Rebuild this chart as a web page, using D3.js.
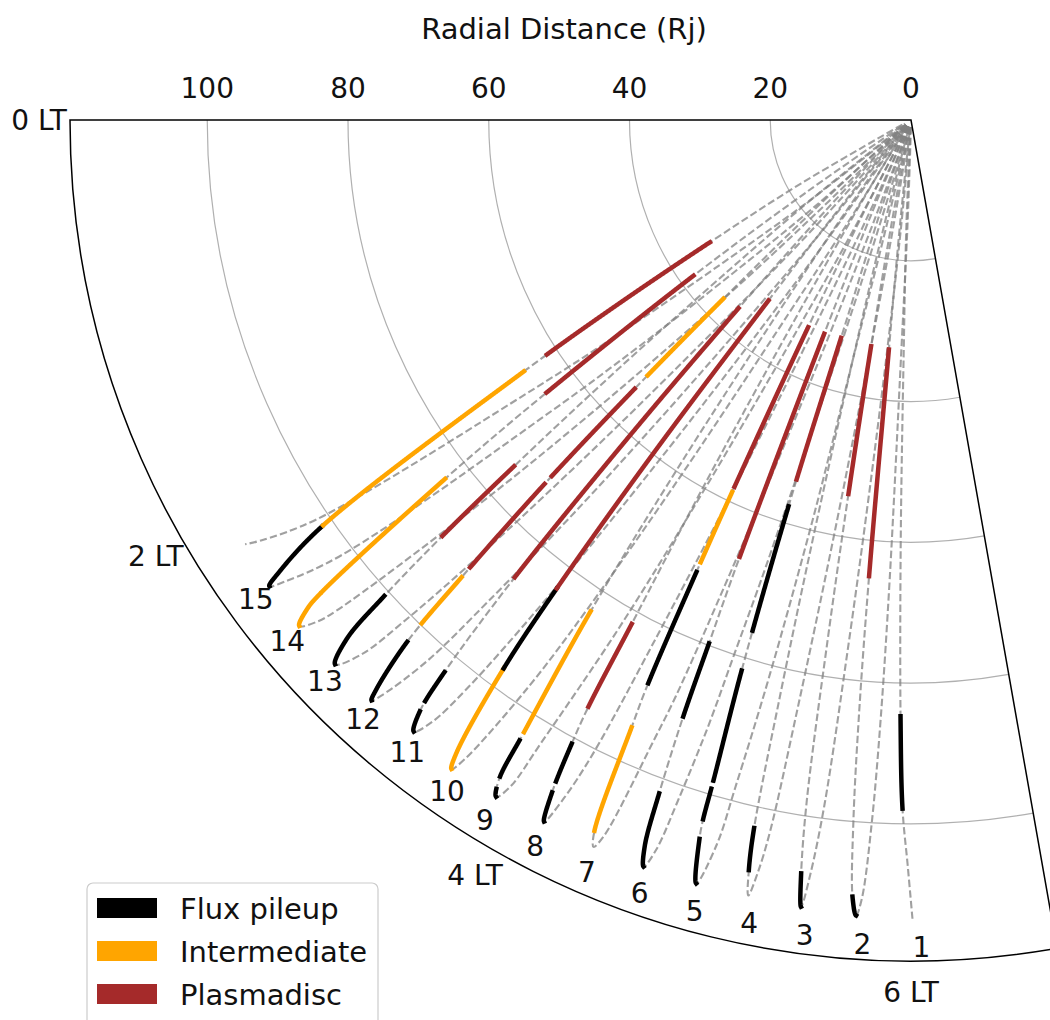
<!DOCTYPE html>
<html lang="en">
<head>
<meta charset="utf-8">
<title>Orbit regions by local time</title>
<script src="https://d3js.org/d3.v7.min.js"></script>
<style>
  body { margin: 0; background: #fff; }
  svg { display: block; font-family: "DejaVu Sans", sans-serif; }
</style>
</head>
<body>
<script>
// region classes
var regions = ["Flux pileup", "Intermediate", "Plasmadisc"];
var regionColors = ["black", "orange", "brown"];

var orbitLabels = ["1", "2", "3", "4", "5", "6", "7", "8", "9", "10", "11", "12", "13", "14", "15"];

// inbound legs, apojove -> planet, points are [LT (h), r (Rj)]
var inbound = [
  [[6.007,113.5],[5.983,105.9],[5.953,97.9],[5.933,84.8],[5.907,60],[5.880,33],[5.833,15],[5.767,1]],
  [[5.737,113.3],[5.713,110.7],[5.687,100],[5.667,85],[5.650,65.1],[5.633,32.8],[5.600,15],[5.500,1]],
  [[5.470,112.9],[5.447,108.2],[5.420,98],[5.393,75],[5.367,53.9],[5.333,32.7],[5.293,15],[5.200,1]],
  [[5.210,112.6],[5.187,109.1],[5.167,103.1],[5.147,85],[5.120,60],[5.087,33],[5.047,15],[4.953,1]],
  [[4.953,112.7],[4.907,106.5],[4.897,104],[4.890,98],[4.860,81.9],[4.827,57.6],[4.813,32.5],[4.773,15],[4.667,1]],
  [[4.687,112.7],[4.657,109.8],[4.633,102.2],[4.607,90.8],[4.593,79.8],[4.573,66.7],[4.527,32.8],[4.480,15],[4.367,1]],
  [[4.427,112.7],[4.400,110.6],[4.353,95],[4.333,88.4],[4.307,71.1],[4.287,57.9],[4.240,32.9],[4.193,15],[4.067,1]],
  [[4.160,112.5],[4.127,108.3],[4.097,100.9],[4.080,95.2],[4.067,81.9],[4.033,60],[3.987,33],[3.933,15],[3.800,1]],
  [[3.900,112.8],[3.867,110.5],[3.847,103],[3.793,83.4],[3.747,60],[3.693,33],[3.633,15],[3.500,1]],
  [[3.647,113],[3.620,110.6],[3.560,97.1],[3.527,83.5],[3.487,60],[3.447,32.7],[3.393,15],[3.267,1]],
  [[3.393,112],[3.353,109.3],[3.320,102.7],[3.273,86],[3.220,60],[3.167,36.3],[3.113,18],[2.967,1]],
  [[3.140,112.6],[3.120,111],[3.067,103.1],[3.033,91.1],[2.987,73.4],[2.947,54.8],[2.907,36.8],[2.853,18],[2.700,1]],
  [[2.893,112.6],[2.840,108.9],[2.807,100.9],[2.773,89.1],[2.740,74.9],[2.693,55],[2.633,33],[2.573,18],[2.400,1]],
  [[2.640,112.8],[2.600,110.4],[2.580,107.3],[2.507,83.6],[2.453,64.7],[2.373,38],[2.307,18],[2.133,1]],
  [[2.400,112.7],[2.373,110.5],[2.307,101.7],[2.200,65.6],[2.147,50],[2.087,33.5],[2.000,18],[1.800,1]]
];

// outbound legs, planet -> next apojove
var outbound = [
  [[5.973,1],[5.873,15],[5.840,32.8],[5.823,65.1],[5.807,85],[5.787,100],[5.760,110.7]],
  [[5.740,1],[5.647,15],[5.607,32.7],[5.573,53.9],[5.547,75],[5.520,98],[5.493,108.2]],
  [[5.467,1],[5.373,15],[5.333,33],[5.300,60],[5.273,85],[5.253,103.1],[5.233,109.1]],
  [[5.240,1],[5.133,15],[5.093,32.5],[5.080,57.6],[5.047,81.9],[5.017,98],[5.000,106.5]],
  [[5.007,1],[4.893,15],[4.847,32.8],[4.800,66.7],[4.780,79.8],[4.767,90.8],[4.740,102.2],[4.717,109.8]],
  [[4.787,1],[4.660,15],[4.613,32.9],[4.567,57.9],[4.547,71.1],[4.520,88.4],[4.500,95],[4.453,110.6]],
  [[4.520,1],[4.387,15],[4.333,33],[4.287,60],[4.253,81.9],[4.223,100.9],[4.193,108.3]],
  [[4.300,1],[4.167,15],[4.107,33],[4.053,60],[4.007,83.4],[3.953,103],[3.933,110.5]],
  [[4.027,1],[3.900,15],[3.847,32.7],[3.807,60],[3.767,83.5],[3.733,97.1],[3.673,110.6]],
  [[3.820,1],[3.673,18],[3.620,36.3],[3.567,60],[3.513,86],[3.467,102.7],[3.433,109.3]],
  [[3.580,1],[3.427,18],[3.373,36.8],[3.333,54.8],[3.293,73.4],[3.247,91.1],[3.213,103.1],[3.160,111]],
  [[3.387,1],[3.213,18],[3.153,33],[3.093,55],[3.047,74.9],[3.013,89.1],[2.980,100.9],[2.947,108.9]],
  [[3.147,1],[2.973,18],[2.907,38],[2.827,64.7],[2.773,83.6],[2.700,107.3],[2.680,110.4]],
  [[3.000,1],[2.800,18],[2.713,33.5],[2.653,50],[2.600,65.6],[2.493,101.7],[2.427,110.5]],
  [[2.767,1],[2.567,18],[2.480,33.5],[2.420,50],[2.367,65.6],[2.260,101.7],[2.193,110],[2.167,112.2]]
];

// classified stretches of each inbound leg: [orbit, region, r from, r to]
var segments = [
  [1,0,97.9,84.8],
  [2,0,113.3,110.7],[2,2,65.1,32.8],
  [3,0,112.9,108.2],[3,2,53.9,32.7],
  [4,0,109.1,103.1],
  [5,0,112.7,106.5],[5,0,103.7,99.2],[5,0,98.0,81.9],[5,0,76.0,57.6],[5,2,53.6,32.5],
  [6,0,112.7,102.2],[6,0,90.8,79.8],[6,2,66.7,32.8],
  [7,1,110.6,95.0],[7,0,88.4,71.1],[7,1,69.6,58.7],[7,2,57.9,32.9],
  [8,0,112.5,108.3],[8,0,106.7,100.9],[8,2,95.2,81.9],
  [9,0,112.8,111.9],[9,0,110.1,104.3],[9,1,102.9,83.4],
  [10,1,113.0,97.1],[10,0,97.1,83.5],[10,2,83.5,32.7],
  [11,0,112.0,109.3],[11,0,107.7,102.7],[11,2,86.0,36.3],
  [12,0,112.6,103.1],[12,1,99.8,91.1],[12,2,89.3,73.4],[12,2,71.9,54.8],[12,1,52.2,36.8],
  [13,0,112.6,100.9],[13,2,89.1,74.9],
  [14,1,112.8,107.7],[14,1,107.3,83.6],[14,2,64.7,38.0],
  [15,0,112.7,101.7],[15,1,101.5,65.6],[15,2,61.6,33.5]
];

var radialTicks = [0, 20, 40, 60, 80, 100];
var ltTicks = [0, 2, 4, 6];

//Width and height
var w = 1050;
var h = 1020;
var cx = 911, cy = 120;
var rMax = 119.5;
var ltMax = 100 / 15;   // wedge runs a little past 6 LT

var rScale = d3.scaleLinear().domain([0, rMax]).range([0, 841]);
// LT 0 points left, LT 6 points straight down
var aScale = d3.scaleLinear().domain([0, 6]).range([-Math.PI / 2, -Math.PI]);

var svg = d3.select("body").append("svg")
  .attr("width", w)
  .attr("height", h);

var g = svg.append("g").attr("transform", "translate(" + cx + "," + cy + ")");

//grid rings
var ring = d3.arc().startAngle(aScale(0)).endAngle(aScale(ltMax));
g.selectAll(".grid")
  .data(radialTicks.filter(function(d) { return d > 0; }))
  .enter().append("path")
  .attr("class", "grid")
  .attr("d", function(d) { return ring({innerRadius: rScale(d), outerRadius: rScale(d)}); })
  .attr("fill", "none")
  .attr("stroke", "#b0b0b0")
  .attr("stroke-width", 1.2);

var line = d3.lineRadial()
  .angle(function(d) { return aScale(d[0]); })
  .radius(function(d) { return rScale(d[1]); })
  .curve(d3.curveCatmullRom.alpha(0.5));

// each track runs from the planet out to apojove N and back in again
var tracks = inbound.map(function(leg, i) {
  return i === 0 ? leg : outbound[i - 1].concat(leg);
});
tracks.push(outbound[outbound.length - 1]);

var trackPaths = g.selectAll(".track")
  .data(tracks)
  .enter().append("path")
  .attr("class", "track")
  .attr("d", line)
  .attr("fill", "none")
  .attr("stroke", "#808080")
  .attr("stroke-opacity", 0.75)
  .attr("stroke-width", 2.1)
  .attr("stroke-dasharray", "7.4,3.2");

// pick the coloured stretches off the drawn track
var segLine = d3.line();
var segLayer = g.append("g");
trackPaths.each(function(d, i) {
  var orbit = i + 1;
  var mine = segments.filter(function(s) { return s[0] === orbit; });
  if (!mine.length) return;
  var node = this;
  var total = node.getTotalLength();
  var samples = [];
  for (var l = 0; l <= total; l += 0.5) {
    var p = node.getPointAtLength(l);
    samples.push({x: p.x, y: p.y, r: rScale.invert(Math.hypot(p.x, p.y))});
  }
  var tip = d3.maxIndex(samples, function(s) { return s.r; });
  mine.forEach(function(s) {
    var i0 = tip;
    while (i0 < samples.length - 1 && samples[i0].r > s[2]) i0++;
    var i1 = i0;
    while (i1 < samples.length - 1 && samples[i1].r > s[3]) i1++;
    var pts = samples.slice(i0, i1 + 1).map(function(q) { return [q.x, q.y]; });
    segLayer.append("path")
      .attr("d", segLine(pts))
      .attr("fill", "none")
      .attr("stroke", regionColors[s[1]])
      .attr("stroke-width", 4.5)
      .attr("stroke-linecap", "square")
      .attr("stroke-linejoin", "round");
  });
});

//frame
var wedge = d3.arc()({innerRadius: 0, outerRadius: rScale(rMax),
  startAngle: aScale(0), endAngle: aScale(ltMax)});
g.append("path")
  .attr("d", wedge)
  .attr("fill", "none")
  .attr("stroke", "black")
  .attr("stroke-width", 1.5)
  .attr("stroke-linejoin", "miter");

//orbit numbers next to each apojove
function polar(lt, rpx) {
  var a = aScale(lt);
  return [rpx * Math.sin(a), -rpx * Math.cos(a)];
}
g.selectAll(".orbit-label")
  .data(inbound)
  .enter().append("text")
  .attr("class", "orbit-label")
  .attr("x", function(d) { return polar(d[0][0], rScale(d[0][1] + 5.5))[0]; })
  .attr("y", function(d) { return polar(d[0][0], rScale(d[0][1] + 5.5))[1]; })
  .attr("font-size", 28)
  .attr("fill", "#111")
  .text(function(d, i) { return orbitLabels[i]; });

//LT labels
g.selectAll(".lt-label")
  .data(ltTicks)
  .enter().append("text")
  .attr("x", function(d) { return polar(d, rScale(rMax) + 31)[0]; })
  .attr("y", function(d) { return polar(d, rScale(rMax) + 31)[1]; })
  .attr("text-anchor", "middle")
  .attr("dominant-baseline", "central")
  .attr("font-size", 28)
  .attr("fill", "#111")
  .text(function(d) { return d + " LT"; });

//radial tick labels along the top edge
svg.selectAll(".r-label")
  .data(radialTicks)
  .enter().append("text")
  .attr("x", function(d) { return cx - rScale(d); })
  .attr("y", 98)
  .attr("text-anchor", "middle")
  .attr("font-size", 28)
  .attr("fill", "#111")
  .text(function(d) { return d; });

svg.append("text")
  .attr("x", 564)
  .attr("y", 39)
  .attr("text-anchor", "middle")
  .attr("font-size", 29)
  .attr("fill", "#111")
  .text("Radial Distance (Rj)");

//legend
var legend = svg.append("g").attr("transform", "translate(87,883)");
legend.append("rect")
  .attr("width", 291)
  .attr("height", 160)
  .attr("rx", 6)
  .attr("fill", "white")
  .attr("fill-opacity", 0.8)
  .attr("stroke", "#cccccc")
  .attr("stroke-width", 1.2);
var items = legend.selectAll(".item")
  .data(regions)
  .enter().append("g")
  .attr("transform", function(d, i) { return "translate(10," + (15 + i * 43) + ")"; });
items.append("rect")
  .attr("width", 60)
  .attr("height", 20)
  .attr("fill", function(d, i) { return regionColors[i]; });
items.append("text")
  .attr("x", 83)
  .attr("y", 11)
  .attr("dominant-baseline", "central")
  .attr("font-size", 29)
  .attr("fill", "#111")
  .text(function(d) { return d; });
</script>
</body>
</html>
